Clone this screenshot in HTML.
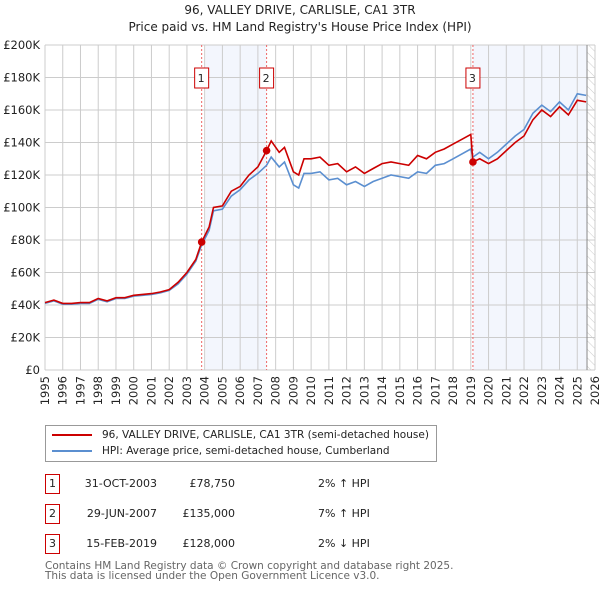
<!DOCTYPE html>
<html><head><meta charset="utf-8"><style>
body{margin:0;width:600px;height:590px;background:#fff;font-family:"DejaVu Sans","Liberation Sans",sans-serif;overflow:hidden;position:relative}
.t{position:absolute;left:0;width:600px;text-align:center;font-size:12px;color:#222}
.abs{position:absolute;font-size:11px;color:#222}
</style></head><body>
<div class="t" style="top:3px">96, VALLEY DRIVE, CARLISLE, CA1 3TR</div>
<div class="t" style="top:20px">Price paid vs. HM Land Registry's House Price Index (HPI)</div>
<svg id="chart" width="600" height="420" style="position:absolute;left:0;top:0;font-family:'DejaVu Sans',sans-serif"></svg>
<div style="position:absolute;left:45px;top:425px;width:390px;height:35px;border:1px solid #999;font-size:10.5px;color:#222">
<div style="position:absolute;left:6px;top:3px;white-space:nowrap"><span style="display:inline-block;width:40px;height:2px;background:#c00;vertical-align:middle;margin-right:10px"></span>96, VALLEY DRIVE, CARLISLE, CA1 3TR (semi-detached house)</div>
<div style="position:absolute;left:6px;top:19px;white-space:nowrap"><span style="display:inline-block;width:40px;height:2px;background:#5b8fd0;vertical-align:middle;margin-right:10px"></span>HPI: Average price, semi-detached house, Cumberland</div>
</div>
<div id="rows"></div>
<div class="abs" style="left:45px;top:561px;font-size:10.5px;color:#666;line-height:10px">Contains HM Land Registry data © Crown copyright and database right 2025.<br>This data is licensed under the Open Government Licence v3.0.</div>
<script>
const years=[1995,1995.5,1996,1996.5,1997,1997.5,1998,1998.5,1999,1999.5,2000,2000.5,2001,2001.5,2002,2002.5,2003,2003.5,2003.83,2004.25,2004.5,2005,2005.5,2006,2006.5,2007,2007.49,2007.75,2008.2,2008.5,2009,2009.3,2009.6,2010,2010.5,2011,2011.5,2012,2012.5,2013,2013.5,2014,2014.5,2015,2015.5,2016,2016.5,2017,2017.5,2018,2018.5,2019,2019.12,2019.5,2020,2020.5,2021,2021.5,2022,2022.5,2023,2023.5,2024,2024.5,2025,2025.5];
const hpi=[41,42.5,40.5,40.5,41,41,43.5,42,44,44,45.5,46,46.5,47.5,49,53,59,67,77,86,98,99,107,111,117,121,126,131,125,128,114,112,121,121,122,117,118,114,116,113,116,118,120,119,118,122,121,126,127,130,133,136,131,134,130,134,139,144,148,158,163,159,165,160,170,169];
const price=[41.5,43,41,41,41.5,41.5,44,42.5,44.5,44.5,46,46.5,47,48,49.5,54,60,68,78.75,88,100,101,110,113,120,125,135,141,134,137,122,120,130,130,131,126,127,122,125,121,124,127,128,127,126,132,130,134,136,139,142,145,128,130,127,130,135,140,144,154,160,156,162,157,166,165];
const saleYears=[2003.83,2007.49,2019.12];
const saleValues=[78.75,135,128];
const saleLabels=["1","2","3"];
const saleDates=["31-OCT-2003","29-JUN-2007","15-FEB-2019"];
const salePrices=["£78,750","£135,000","£128,000"];
const saleDiffs=["2% ↑ HPI","7% ↑ HPI","2% ↓ HPI"];
const yTicks=[0,20,40,60,80,100,120,140,160,180,200];
const xTicks=[];for(let y=1995;y<=2026;y++)xTicks.push(y);

const L=45,R=595,T=45,B=370;
const xs=v=>L+(v-1995)/(2026-1995)*(R-L);
const ys=v=>B-v/200*(B-T);
const NS="http://www.w3.org/2000/svg";
const svg=document.getElementById('chart');
function mk(tag,a,parent){const e=document.createElementNS(NS,tag);for(const k in a)e.setAttribute(k,a[k]);(parent||svg).appendChild(e);return e;}
let e;
e=mk('defs',{});e.innerHTML='<pattern id="hatch" width="6" height="6" patternUnits="userSpaceOnUse" patternTransform="rotate(-45)"><line x1="0" y1="0" x2="0" y2="6" stroke="#ccc" stroke-width="1"/></pattern>';
e=mk('rect',{x:xs(saleYears[0])+4,y:T,width:xs(saleYears[1])-xs(saleYears[0])-4,height:B-T,fill:'#f3f6fd'});

e=mk('rect',{x:xs(saleYears[2]),y:T,width:xs(2025.55)-xs(saleYears[2]),height:B-T,fill:'#f3f6fd'});

e=mk('rect',{x:xs(2025.55),y:T,width:R-xs(2025.55),height:B-T,fill:'url(#hatch)'});

xTicks.forEach(t=>{e=mk('line',{x1:xs(t),x2:xs(t),y1:T,y2:B,stroke:'#ccc','stroke-width':1});

e=mk('text',{x:0,y:0,transform:`translate(${xs(t)+4},${B+6}) rotate(-90)`,'text-anchor':'end','font-size':11.5,fill:'#222'});e.textContent=t;
});
yTicks.forEach(t=>{e=mk('line',{x1:L,x2:R,y1:ys(t),y2:ys(t),stroke:'#ccc','stroke-width':1});

e=mk('text',{x:40,y:ys(t)+4,'text-anchor':'end','font-size':11.5,fill:'#222'});e.textContent=t===0?'£0':'£'+t+'K';
});
e=mk('line',{x1:xs(2025.55),x2:xs(2025.55),y1:T,y2:B,stroke:'#888','stroke-width':1});

saleYears.forEach((s,i)=>{e=mk('line',{x1:xs(s),x2:xs(s),y1:T,y2:B,stroke:'#e66','stroke-width':1,'stroke-dasharray':'2,2'});

e=mk('rect',{x:xs(s)-7,y:68,width:14,height:20,fill:'#fff',stroke:'#c00'});

e=mk('text',{x:xs(s)-0.5,y:82,'text-anchor':'middle','font-size':11,fill:'#222'});e.textContent=saleLabels[i];
});
const pts=a=>a.map((v,i)=>xs(years[i]).toFixed(1)+','+ys(v).toFixed(1)).join(' ');
e=mk('polyline',{points:pts(hpi),fill:'none',stroke:'#5b8fd0','stroke-width':1.6});

e=mk('polyline',{points:pts(price),fill:'none',stroke:'#c00','stroke-width':1.6});

saleYears.forEach((s,i)=>{e=mk('circle',{cx:xs(s),cy:ys(saleValues[i]),r:3.8,fill:'#c00'});
});
const rows=document.getElementById('rows');
saleYears.forEach((s,i)=>{const y=474+i*30;
rows.insertAdjacentHTML('beforeend',
`<div>
<div class="abs" style="left:45px;top:${y}px;width:13px;height:18px;border:1px solid #c00;text-align:center;line-height:18px">${saleLabels[i]}</div>
<div class="abs" style="left:40px;width:117px;top:${y+3}px;text-align:right">${saleDates[i]}</div>
<div class="abs" style="left:150px;width:85px;top:${y+3}px;text-align:right">${salePrices[i]}</div>
<div class="abs" style="left:318px;top:${y+3}px">${saleDiffs[i]}</div></div>`);});
</script>
</body></html>
